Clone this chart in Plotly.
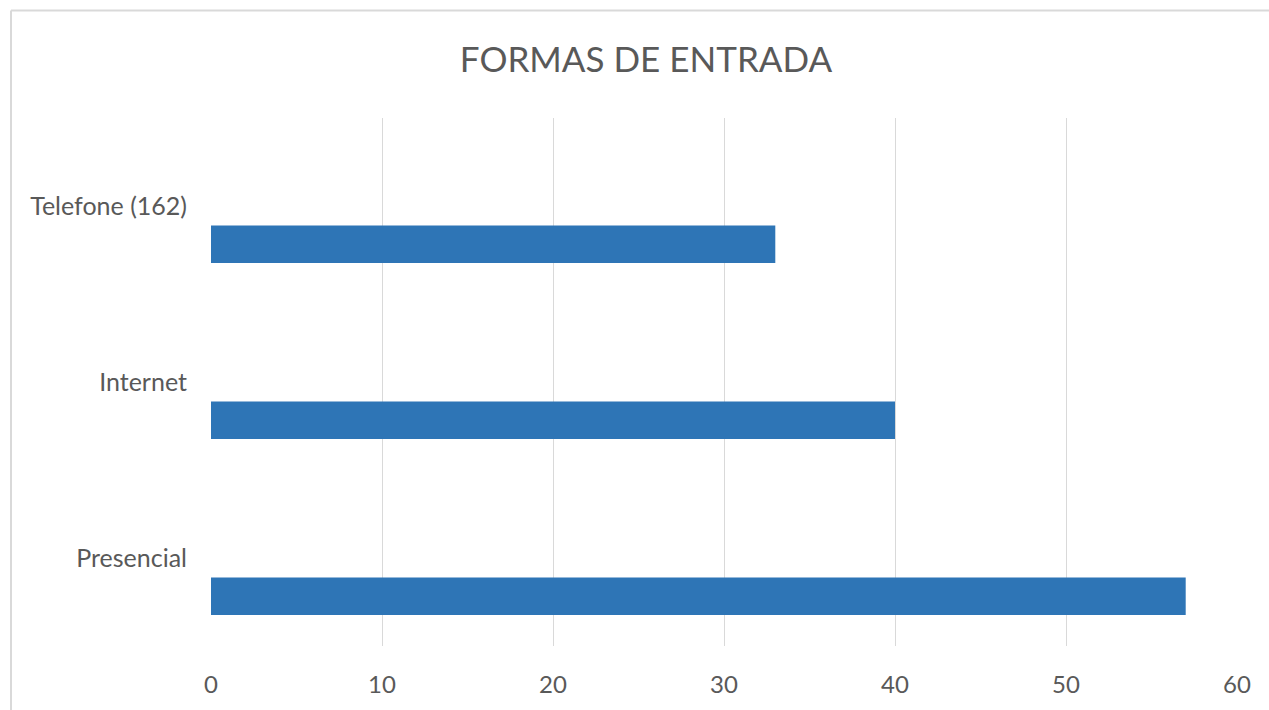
import plotly.graph_objects as go

categories = ["Presencial", "Internet", "Telefone (162)"]
values = [57, 40, 33]
x_ticks = [0, 10, 20, 30, 40, 50, 60]

W, H = 1269, 710
ml, mr, mt, mb = 211, 32, 118, 62
pw, ph = W - ml - mr, H - mt - mb

fig = go.Figure()
fig.add_trace(go.Bar(
    y=categories, x=values, orientation="h",
    marker=dict(color="#2e75b6", line=dict(width=0)),
    width=0.213, offset=-0.324,
    hoverinfo="x+y",
))

font = "Lato, 'Open Sans', sans-serif"
fig.update_layout(
    width=W, height=H,
    margin=dict(l=ml, r=mr, t=mt, b=mb),
    paper_bgcolor="white", plot_bgcolor="white",
    showlegend=False,
    title=dict(text="FORMAS DE ENTRADA", x=646 / W, xref="container", xanchor="center",
               y=1 - 60 / H, yref="container", yanchor="middle",
               font=dict(family=font, size=35, color="#595959")),
    xaxis=dict(range=[0, 60], tickvals=x_ticks, showgrid=True, gridcolor="#d9d9d9",
               gridwidth=1.3, zeroline=False, showline=False,
               tickfont=dict(family=font, size=24, color="#595959"),
               ticklabelstandoff=22, fixedrange=True),
    yaxis=dict(categoryorder="array", categoryarray=categories, range=[-0.5, 2.5],
               showgrid=False, zeroline=False, showline=False,
               tickfont=dict(family=font, size=25, color="#595959"),
               ticklabelstandoff=23, fixedrange=True),
)

# chart border (top & left visible, rest cropped)
bx0 = (11 - ml) / pw
by1 = (H - mb - 10) / ph
fig.add_shape(type="line", xref="paper", yref="paper", x0=bx0, x1=1.2, y0=by1, y1=by1,
              line=dict(color="#d9d9d9", width=2))
fig.add_shape(type="line", xref="paper", yref="paper", x0=bx0, x1=bx0, y0=by1, y1=-0.3,
              line=dict(color="#d9d9d9", width=2))

fig.write_html(
    "out.html",
    config={"displayModeBar": False},
    post_script="document.body.style.margin='0';document.documentElement.style.overflow='hidden';document.body.style.overflow='hidden';",
)
